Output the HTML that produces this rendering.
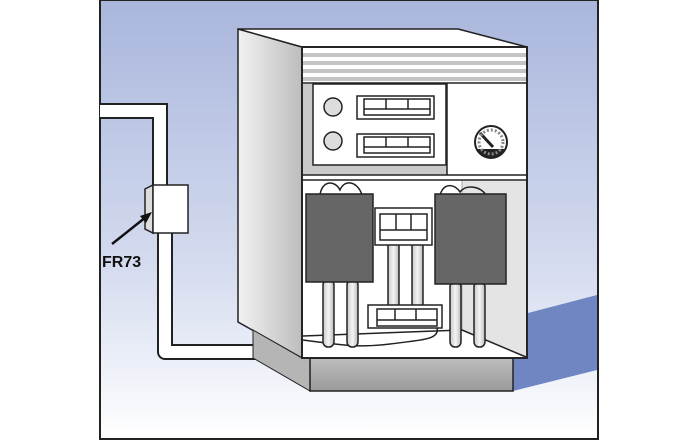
<!DOCTYPE html>
<html><head><style>body{margin:0;background:#fff}svg{display:block}</style></head><body>
<svg width="698" height="440" viewBox="0 0 698 440" xmlns="http://www.w3.org/2000/svg">
<defs>
<linearGradient id="bg" x1="0" y1="0" x2="0" y2="1"><stop offset="0" stop-color="#a9b6dc"/><stop offset="0.6" stop-color="#d4dbef"/><stop offset="1" stop-color="#ffffff"/></linearGradient>
<linearGradient id="side" x1="0" y1="0" x2="1" y2="0"><stop offset="0" stop-color="#f2f2f2"/><stop offset="1" stop-color="#bdbdbd"/></linearGradient>
<linearGradient id="plinth" x1="0" y1="0" x2="0" y2="1"><stop offset="0" stop-color="#bdbdbd"/><stop offset="1" stop-color="#9a9a9a"/></linearGradient>
<linearGradient id="pipe" x1="0" y1="0" x2="1" y2="0"><stop offset="0" stop-color="#c8c8c8"/><stop offset="0.5" stop-color="#f4f4f4"/><stop offset="1" stop-color="#bbb"/></linearGradient>
</defs>
<rect x="100" y="0" width="498" height="439" fill="url(#bg)" stroke="#222" stroke-width="2"/>
<polygon points="528,313 597,295 597,370 513,391 513,358 528,358" fill="#6f86c2"/>
<!-- conduit -->
<path d="M100,111 H160 V185" fill="none" stroke="#222" stroke-width="16"/>
<path d="M100,111 H160 V185" fill="none" stroke="#fff" stroke-width="12"/>
<path d="M165,233 V352 H272" fill="none" stroke="#222" stroke-width="16" stroke-linejoin="round"/>
<path d="M165,233 V352 H272" fill="none" stroke="#fff" stroke-width="12" stroke-linejoin="round"/>
<polygon points="145,189 153,185 153,233 145,229" fill="#ddd" stroke="#222" stroke-width="1.5"/>
<rect x="153" y="185" width="35" height="48" fill="#fff" stroke="#222" stroke-width="1.5"/>
<line x1="112" y1="244" x2="146" y2="217" stroke="#111" stroke-width="2.5"/>
<polygon points="152,212 140,216 146,223" fill="#111"/>
<text x="102" y="267" font-family="Liberation Sans, sans-serif" font-weight="bold" font-size="16" fill="#111">FR73</text>
<!-- cabinet side -->
<polygon points="238,29 302,47 302,358 238,322" fill="url(#side)" stroke="#222" stroke-width="1.5"/>
<polygon points="253,330 302,358 310,358 310,391 253,358" fill="#b5b5b5" stroke="#222" stroke-width="1"/>
<rect x="310" y="358" width="203" height="33" fill="url(#plinth)" stroke="#222" stroke-width="1.5"/>
<polygon points="238,29 458,29 527,47 302,47" fill="#fff" stroke="#222" stroke-width="1.5"/>
<!-- front -->
<rect x="302" y="47" width="225" height="311" fill="#fff" stroke="#222" stroke-width="1.8"/>
<g fill="#c4c4c4"><rect x="303" y="53" width="223" height="4"/><rect x="303" y="61" width="223" height="4"/><rect x="303" y="69" width="223" height="4"/><rect x="303" y="77" width="223" height="4"/></g>
<line x1="302" y1="83" x2="527" y2="83" stroke="#222" stroke-width="1.5"/>
<rect x="303" y="84" width="144" height="91" fill="#c9c9c9"/>
<rect x="313" y="84" width="133" height="81" fill="#fff" stroke="#222" stroke-width="1.5"/>
<line x1="447" y1="83" x2="447" y2="175" stroke="#222" stroke-width="1.5"/>
<rect x="302" y="175" width="225" height="5" fill="#fff" stroke="#222" stroke-width="1.5"/>
<circle cx="333" cy="107" r="9" fill="#ddd" stroke="#222" stroke-width="1.5"/>
<circle cx="333" cy="141" r="9" fill="#ddd" stroke="#222" stroke-width="1.5"/>
<g fill="#fff" stroke="#222" stroke-width="1.5">
<rect x="357" y="96" width="77" height="23"/><rect x="364" y="99" width="66" height="16"/>
<line x1="364" y1="109" x2="430" y2="109"/><line x1="386" y1="99" x2="386" y2="109"/><line x1="408" y1="99" x2="408" y2="109"/>
<rect x="357" y="134" width="77" height="23"/><rect x="364" y="137" width="66" height="16"/>
<line x1="364" y1="147" x2="430" y2="147"/><line x1="386" y1="137" x2="386" y2="147"/><line x1="408" y1="137" x2="408" y2="147"/>
</g>
<circle cx="491" cy="142" r="16" fill="#fff" stroke="#222" stroke-width="2"/>
<path d="M477,149 A15,15 0 0 0 505,149 Z" fill="#222"/>
<line x1="480" y1="133" x2="493" y2="147" stroke="#222" stroke-width="3"/>
<circle cx="491" cy="142" r="12" fill="none" stroke="#888" stroke-width="3" stroke-dasharray="2,2"/>
<!-- lower section -->
<polygon points="462,181 526,181 526,357 462,330" fill="#e4e4e4"/>
<line x1="462" y1="181" x2="462" y2="330" stroke="#aaa"/>
<line x1="462" y1="330" x2="526" y2="357" stroke="#222" stroke-width="1.5"/>
<line x1="303" y1="336" x2="462" y2="330" stroke="#222" stroke-width="1.5"/>
<path d="M303,340 C340,345 360,348 390,344 C420,340 440,340 437,328" fill="none" stroke="#222" stroke-width="1.5"/>
<g fill="url(#pipe)" stroke="#222" stroke-width="1.5">
<rect x="323" y="280" width="11" height="67" rx="5"/><rect x="347" y="280" width="11" height="67" rx="5"/>
<rect x="388" y="244" width="11" height="62"/><rect x="412" y="244" width="11" height="62"/>
<rect x="450" y="282" width="11" height="65" rx="5"/><rect x="474" y="282" width="11" height="65" rx="5"/>
</g>
<path d="M320,195 C322,180 335,180 340,190 C345,178 358,182 362,195" fill="none" stroke="#222" stroke-width="1.5"/>
<path d="M440,195 C444,182 455,184 460,192 C466,184 480,186 486,195" fill="none" stroke="#222" stroke-width="1.5"/>
<rect x="306" y="194" width="67" height="88" fill="#666" stroke="#222" stroke-width="1.5"/>
<rect x="435" y="194" width="71" height="90" fill="#666" stroke="#222" stroke-width="1.5"/>
<g fill="#fff" stroke="#222" stroke-width="1.5">
<rect x="375" y="208" width="57" height="37"/><rect x="380" y="214" width="47" height="26"/>
<line x1="380" y1="230" x2="427" y2="230"/><line x1="396" y1="214" x2="396" y2="230"/><line x1="411" y1="214" x2="411" y2="230"/>
<rect x="368" y="305" width="74" height="23"/><rect x="377" y="309" width="60" height="17"/>
<line x1="377" y1="320" x2="437" y2="320"/><line x1="395" y1="309" x2="395" y2="320"/><line x1="416" y1="309" x2="416" y2="320"/>
</g>
<rect x="302" y="47" width="225" height="311" fill="none" stroke="#222" stroke-width="1.8"/>
</svg>
</body></html>
